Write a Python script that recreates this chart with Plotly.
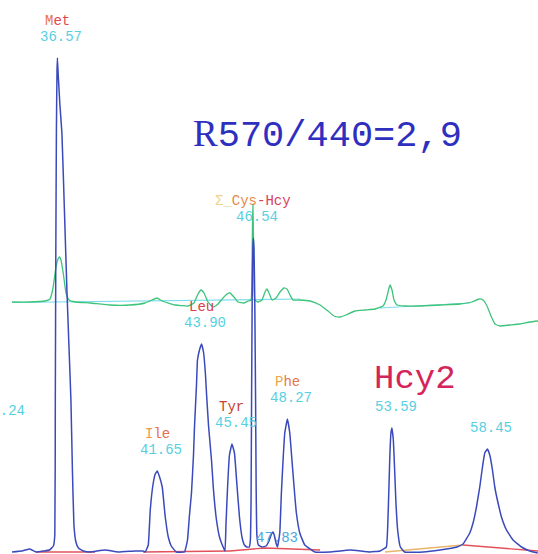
import plotly.graph_objects as go

# Retention time (min) and detector signal for the 570 nm channel
blue_time = [
    34.260, 34.768, 35.175, 35.481,
    # Met
    35.858, 36.163, 36.366, 36.438, 36.463, 36.489, 36.519, 36.550, 36.570, 36.611,
    36.697, 36.799, 36.926, 37.053, 37.155, 37.257, 37.333, 37.410, 37.511, 37.638, 37.893,
    38.228, 38.991, 39.653, 40.518, 40.925,
    # Ile
    41.039, 41.192, 41.294, 41.446, 41.548, 41.650, 41.752, 41.904, 42.057, 42.210, 42.362, 42.617,
    # Leu
    43.035, 43.188, 43.289, 43.391, 43.493, 43.544, 43.646, 43.696, 43.798, 43.900, 44.002,
    44.104, 44.154, 44.256, 44.409, 44.511, 44.663, 44.816, 44.918,
    # Tyr
    45.094, 45.145, 45.221, 45.323, 45.450, 45.577, 45.704, 45.832, 45.959, 46.086, 46.213,
    # Cys-Hcy
    46.336, 46.387, 46.423, 46.448, 46.479, 46.515, 46.540, 46.571, 46.611, 46.652, 46.682,
    46.718, 46.794,
    # small peak
    46.979, 47.183, 47.335, 47.462, 47.539, 47.615, 47.691, 47.768,
    # Phe
    47.883, 47.965, 48.051, 48.138, 48.270, 48.392, 48.474, 48.611, 48.728, 48.901, 49.155, 49.664,
    50.439, 51.456, 52.474, 52.982,
    # 53.59
    53.305, 53.386, 53.437, 53.488, 53.539, 53.590, 53.661, 53.727, 53.794, 53.880, 54.017, 54.236,
    55.171, 56.035, 56.900,
    # 58.45
    57.209, 57.549, 57.717, 57.890, 58.058, 58.196, 58.313, 58.450, 58.567, 58.704, 58.821,
    58.989, 59.162, 59.417, 59.753, 60.180, 60.602, 61.009,
]
blue_signal = [
    -1, 0, 2, -1,
    0, 1, 5, 16, 151, 301, 421, 481, 493, 476,
    446, 418, 341, 261, 206, 151, 81, 26, 9, 3, 0,
    -1, 1, -1, 0, 0,
    -1, 6, 41, 68, 77, 80, 75, 64, 34, 14, 5, -1,
    -1, 11, 36, 58, 96, 124, 166, 191, 201, 207, 199,
    176, 158, 126, 91, 61, 31, 14, 8,
    0, 26, 61, 96, 107, 98, 66, 34, 14, 6, 4,
    4, 11, 51, 151, 251, 303, 313, 303, 251, 151, 61,
    16, 6,
    4, 5, 10, 17, 19, 15, 8, 4,
    18, 58, 91, 118, 132, 118, 98, 64, 38, 18, 6, -1,
    -1, 1, -1, 0,
    4, 31, 64, 98, 118, 123, 111, 81, 48, 21, 4, -1,
    -1, 1, 4,
    7, 18, 28, 44, 64, 84, 98, 102, 96, 81, 64,
    48, 34, 21, 11, 4, 0, -2,
]

# 440 nm channel (offset trace)
green_time = [
    34.260, 35.175, 35.939, 36.193, 36.346, 36.473, 36.600, 36.676, 36.752, 36.880, 37.007,
    37.160, 37.465, 38.228, 39.246, 40.263, 41.026, 41.382, 41.637, 41.891, 42.552, 43.214,
    43.519, 43.723, 43.875, 44.028, 44.232, 44.486, 44.740, 44.995, 45.198, 45.351, 45.554,
    45.758, 46.063, 46.267, 46.420, 46.460, 46.490, 46.515, 46.540, 46.570, 46.610, 46.776,
    46.979, 47.131, 47.233, 47.335, 47.488, 47.691, 47.895, 48.098, 48.251, 48.404, 48.557,
    48.913, 49.422, 49.930, 50.337, 50.642, 50.948, 51.253, 51.711, 52.220, 52.728, 53.135,
    53.288, 53.390, 53.491, 53.593, 53.695, 53.848, 54.255, 55.018, 56.035, 57.053, 57.663,
    58.020, 58.223, 58.427, 58.630, 58.834, 59.088, 59.597, 60.105, 60.614, 61.021,
]
green_signal = [
    249, 249, 250, 252, 263, 281, 292, 294, 291, 276, 258,
    251, 249, 248, 246, 246, 248, 251, 253, 250, 246, 245,
    248, 257, 261, 258, 249, 244, 247, 253, 257, 258, 254,
    249, 248, 250, 251, 270, 320, 347, 320, 270, 251, 249,
    251, 259, 262, 258, 251, 253, 259, 263, 262, 256, 251,
    251, 250, 246, 240, 235, 234, 236, 240, 241, 242, 245,
    251, 259, 266, 261, 251, 246, 245, 245, 246, 247, 249,
    252, 251, 245, 235, 227, 225, 226, 227, 229, 230,
]

# Integration baselines: (start time, start signal, end time, end signal)
green_baselines = [
    (34.26, 248.5, 48.913, 252.0),
    (52.982, 243.0, 57.562, 248.0),
]
red_baselines = [
    ([35.48, 38.49], [-1, -1]),
    ([40.93, 45.35], [-1, 0]),
    ([45.35, 47.13, 49.93], [0, 3, 1]),
]
orange_baselines = [
    ([53.24, 57.21], [-1, 6]),
]
red_tail = ([57.21, 61.02], [6, 0])

# Identified peaks
peak_rt = [36.57, 41.65, 43.90, 45.45, 46.54, 48.27, 53.59, 58.45]
peak_height = [493, 80, 207, 107, 313, 132, 123, 102]
peak_name = [
    '<span style="color:#e8704a">M</span><span style="color:#e0484e">et</span>',
    '<span style="color:#ea9a4a">I</span><span style="color:#e2704a">le</span>',
    '<span style="color:#d9404a">Leu</span>',
    '<span style="color:#c8402e">Tyr</span>',
    '<span style="color:#eed48a">Σ_</span><span style="color:#e6884a">Cys</span>'
    '<span style="color:#d8405a">-Hcy</span>',
    '<span style="color:#eaa84a">P</span><span style="color:#e4784a">he</span>',
    '',
    '',
]
minor_rt = 47.83
minor_label_y = 13

cyan = "#57cfe2"
mono = "Liberation Mono"

fig = go.Figure()

for t0, s0, t1, s1 in green_baselines:
    fig.add_trace(go.Scatter(x=[t0, t1], y=[s0, s1], mode="lines",
                             line=dict(color="#7fdcec", width=1.2), hoverinfo="skip"))

for xs, ys in red_baselines:
    fig.add_trace(go.Scatter(x=xs, y=ys, mode="lines",
                             line=dict(color="#e3505a", width=1.3), hoverinfo="skip"))
for xs, ys in orange_baselines:
    fig.add_trace(go.Scatter(x=xs, y=ys, mode="lines",
                             line=dict(color="#eab46a", width=1.3), hoverinfo="skip"))
fig.add_trace(go.Scatter(x=red_tail[0], y=red_tail[1], mode="lines",
                         line=dict(color="#e3505a", width=1.3), hoverinfo="skip"))

fig.add_trace(go.Scatter(x=green_time, y=green_signal, mode="lines",
                         line=dict(color="#3cc47a", width=1.3, shape="spline", smoothing=0.4),
                         hoverinfo="skip"))

fig.add_trace(go.Scatter(x=blue_time, y=blue_signal, mode="lines",
                         line=dict(color="#3a4abb", width=1.5, shape="spline", smoothing=0.3),
                         hoverinfo="skip"))

annotations = []
for rt, h, name in zip(peak_rt, peak_height, peak_name):
    annotations.append(dict(x=rt, y=h, xref="x", yref="y", text=f"{rt:.2f}",
                            showarrow=False, xshift=4, yshift=21, yanchor="middle",
                            font=dict(family=mono, size=14, color=cyan)))
    if name:
        annotations.append(dict(x=rt, y=h, xref="x", yref="y", text=name,
                                showarrow=False, xshift=0, yshift=37, yanchor="middle",
                                font=dict(family=mono, size=14, color="#e0504a")))

annotations.append(dict(x=minor_rt, y=minor_label_y, xref="x", yref="y",
                        text=f"{minor_rt:.2f}", showarrow=False, xshift=-2,
                        yanchor="middle", font=dict(family=mono, size=14, color="#4aa8e0")))

# Partially visible label of an earlier peak
annotations.append(dict(x=0, y=0.258, xref="paper", yref="paper", text="33.24",
                        showarrow=False, xanchor="right", xshift=27, yanchor="middle",
                        font=dict(family=mono, size=14, color=cyan)))

annotations.append(dict(x=0.608, y=0.756, xref="paper", yref="paper",
                        text='<span style="font-family:Liberation Serif">R</span>570/440=2,9',
                        showarrow=False, xanchor="center", yanchor="middle",
                        font=dict(family=mono, size=37, color="#2f2fbf")))
annotations.append(dict(x=0.771, y=0.316, xref="paper", yref="paper", text="Hcy2",
                        showarrow=False, xanchor="center", yanchor="middle",
                        font=dict(family=mono, size=34, color="#d4245a")))

fig.update_layout(
    width=538, height=554,
    margin=dict(l=0, r=0, t=0, b=0),
    paper_bgcolor="white", plot_bgcolor="white",
    showlegend=False,
    xaxis=dict(range=[33.649, 61.021], visible=False, showgrid=False, zeroline=False),
    yaxis=dict(range=[-3, 551], visible=False, showgrid=False, zeroline=False),
    annotations=annotations,
)

fig.write_html("out.html")
